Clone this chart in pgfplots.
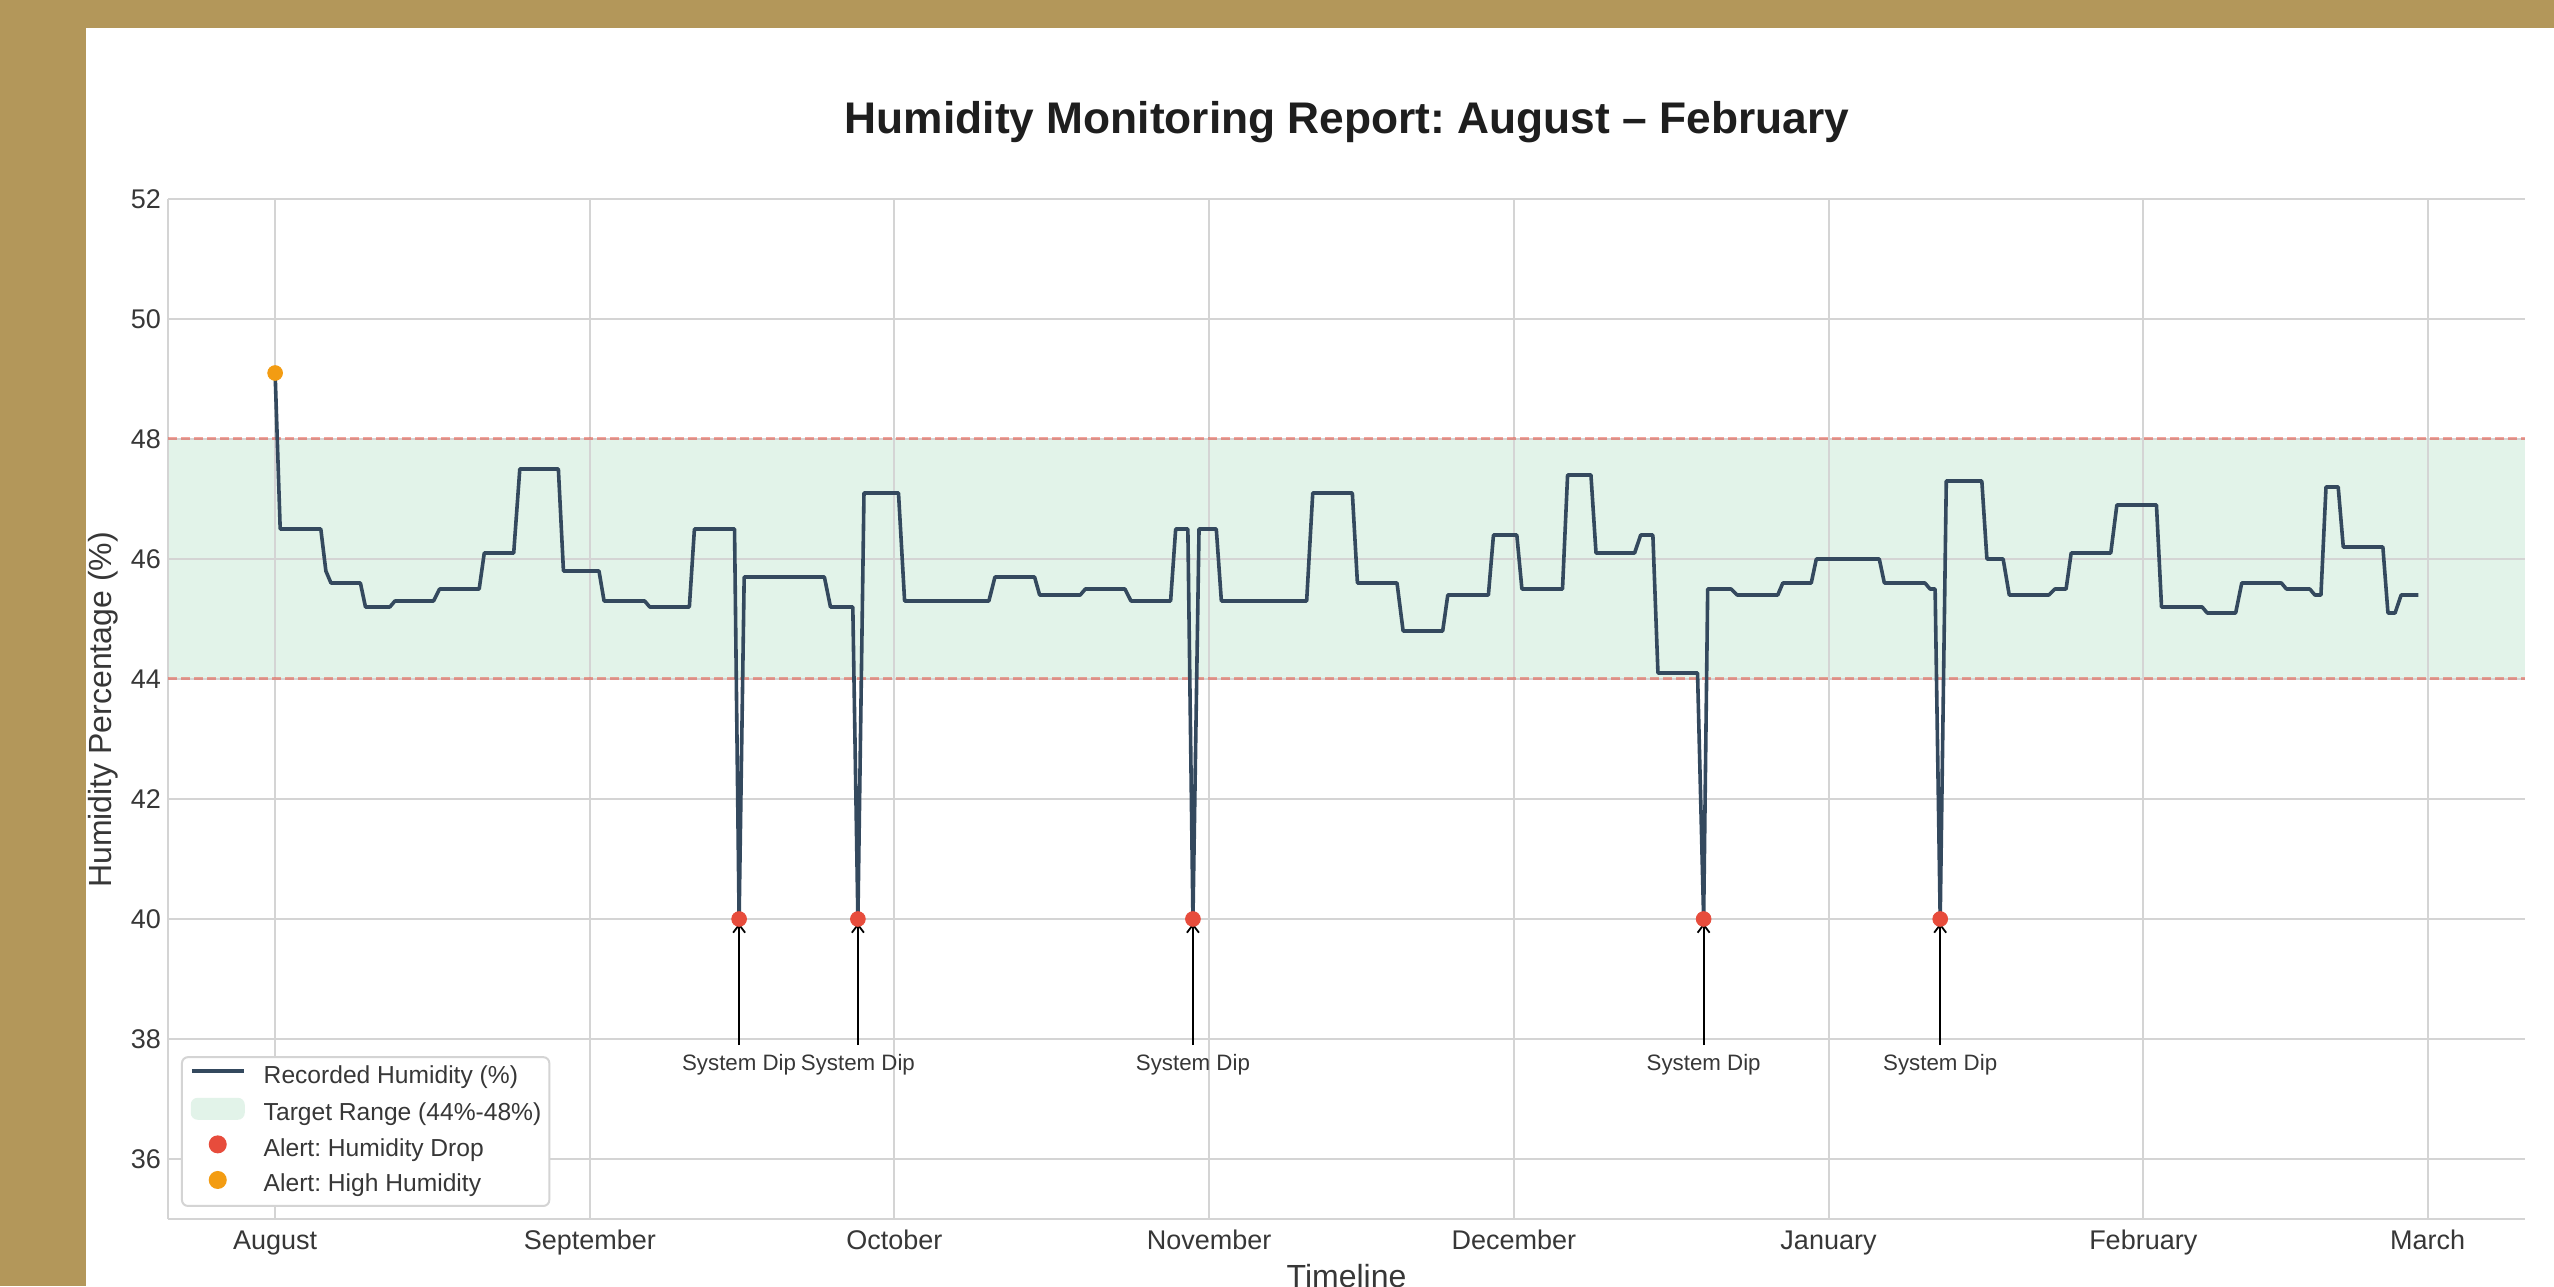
\documentclass[border=0pt]{standalone}
\usepackage{pgfplots}
\usepackage{pgfplotstable}
\pgfplotsset{compat=1.18}
\usepackage{fontspec}
\setmainfont{Liberation Sans}
\usetikzlibrary{arrows.meta}
\frenchspacing
\definecolor{gold}{RGB}{179,151,90}
\definecolor{linec}{RGB}{52,73,94}
\definecolor{bandc}{RGB}{226,243,233}
\definecolor{dashc}{RGB}{231,76,60}
\definecolor{dropc}{RGB}{231,76,60}
\definecolor{highc}{RGB}{243,156,18}
\definecolor{gridc}{RGB}{212,212,212}
\definecolor{tickc}{RGB}{55,55,55}
\definecolor{titlec}{RGB}{30,30,30}

\pgfplotstableread{
day hum
0 49.1
0.5 46.5
4.5 46.5
5.0 45.8
5.5 45.6
8.4 45.6
8.9 45.2
11.3 45.2
11.8 45.3
15.6 45.3
16.2 45.5
20.1 45.5
20.6 46.1
23.5 46.1
24.1 47.5
27.9 47.5
28.4 45.8
31.9 45.8
32.4 45.3
36.4 45.3
36.9 45.2
40.8 45.2
41.3 46.5
45.25 46.5
45.7 40.0
46.2 45.7
54.1 45.7
54.7 45.2
56.9 45.2
57.4 40.0
58.0 47.1
61.4 47.1
62.0 45.3
70.3 45.3
70.9 45.7
74.8 45.7
75.3 45.4
79.3 45.4
79.8 45.5
83.7 45.5
84.3 45.3
88.2 45.3
88.7 46.5
89.9 46.5
90.4 40.0
91.0 46.5
92.7 46.5
93.2 45.3
101.6 45.3
102.2 47.1
106.1 47.1
106.6 45.6
110.5 45.6
111.1 44.8
115.0 44.8
115.5 45.4
119.5 45.4
120.0 46.4
122.3 46.4
122.8 45.5
126.8 45.5
127.3 47.4
129.6 47.4
130.1 46.1
133.9 46.1
134.5 46.4
135.7 46.4
136.2 44.1
140.1 44.1
140.7 40.0
141.1 45.5
143.4 45.5
144.0 45.4
148.0 45.4
148.5 45.6
151.3 45.6
151.8 46.0
158.0 46.0
158.5 45.6
162.5 45.6
163.0 45.5
163.5 45.5
164.0 40.0
164.6 47.3
168.1 47.3
168.6 46.0
170.2 46.0
170.8 45.4
174.7 45.4
175.3 45.5
176.4 45.5
176.9 46.1
180.8 46.1
181.4 46.9
185.3 46.9
185.8 45.2
189.8 45.2
190.3 45.1
193.1 45.1
193.7 45.6
197.6 45.6
198.1 45.5
200.4 45.5
200.9 45.4
201.5 45.4
202.0 47.2
203.2 47.2
203.7 46.2
207.6 46.2
208.1 45.1
208.8 45.1
209.4 45.4
211.1 45.4
}\humdata

\begin{document}
\begin{tikzpicture}
\begin{axis}[
  set layers,
  scale only axis, width=1178.5pt, height=510pt,
  at={(84pt,33.5pt)}, anchor=south west,
  xmin=-10.55, xmax=221.6, ymin=35, ymax=52,
  xtick={0,31,61,92,122,153,184,212},
  xticklabels={August,September,October,November,December,January,February,March},
  ytick={36,38,40,42,44,46,48,50,52},
  grid=major, major grid style={draw=gridc, line width=1pt},
  major tick length=0pt,
  axis x line*=bottom, axis y line*=left,
  axis line style={draw=gridc, line width=1.2pt, -},
  tick label style={font=\fontsize{13.5}{16}\selectfont, text=tickc},
  /pgf/number format/assume math mode=true,
  xticklabel style={anchor=base, yshift=-15pt},
  legend style={
    at={(0.0055,0.0118)}, anchor=south west,
    draw=gridc, line width=1pt, rounded corners=3pt, fill=white,
    font=\fontsize{12.3}{14}\selectfont, text=tickc,
    inner sep=4pt, row sep=4.3pt,
    nodes={inner sep=0pt, text height=9pt, text depth=3pt},
  },
  legend cell align=left,
]
\begin{pgfonlayer}{axis background}
\fill[gold] ([shift={(-84pt,-33.5pt)}]rel axis cs:0,0) rectangle ([shift={(1193pt,609.5pt)}]rel axis cs:0,0);
\fill[white] ([shift={(-41pt,-33.5pt)}]rel axis cs:0,0) rectangle ([shift={(1193pt,595.5pt)}]rel axis cs:0,0);
\end{pgfonlayer}
\addlegendimage{legend image code/.code={\draw[linec, line width=1.8pt] (0pt,3pt) -- (26pt,3pt); \path (35.5pt,0pt);}}
\addlegendentry{Recorded Humidity (\%)}
\addlegendimage{legend image code/.code={\fill[bandc] (0pt,-2pt) rectangle (26pt,8pt); \path (35.5pt,0pt);}}
\addlegendentry{Target Range (44\%-48\%)}
\addlegendimage{legend image code/.code={\fill[dropc] (13pt,3pt) circle (4pt); \path (0pt,0pt) (35.5pt,0pt);}}
\addlegendentry{Alert: Humidity Drop}
\addlegendimage{legend image code/.code={\fill[highc] (13pt,3pt) circle (4pt); \path (0pt,0pt) (35.5pt,0pt);}}
\addlegendentry{Alert: High Humidity}

\addplot[draw=none, fill=bandc, on layer=axis background, forget plot]
  coordinates {(-10.55,44) (221.6,44) (221.6,48) (-10.55,48)} -- cycle;
\addplot[dashc, opacity=0.5, dash pattern=on 4.5pt off 2pt, line width=1.5pt, forget plot]
  coordinates {(-10.55,48) (221.6,48)};
\addplot[dashc, opacity=0.5, dash pattern=on 4.5pt off 2pt, line width=1.5pt, forget plot]
  coordinates {(-10.55,44) (221.6,44)};

\addplot[linec, line width=1.8pt, line join=round, forget plot] table[x=day,y=hum] {\humdata};

\addplot[dropc, only marks, mark=*, mark size=3.7pt, mark options={solid, draw=none, fill=dropc}, forget plot]
  coordinates {(45.7,40) (57.4,40) (90.4,40) (140.7,40) (164.0,40)};
\addplot[highc, only marks, mark=*, mark size=3.7pt, mark options={solid, draw=none, fill=highc}, forget plot]
  coordinates {(0,49.1)};

\foreach \d in {45.7,57.4,90.4,140.7,164.0}{
  \edef\tmp{\noexpand\draw[black, line width=0.9pt, -{Straight Barb[length=4pt,width=6pt]}] (axis cs:\d,37.9) -- (axis cs:\d,39.93);
  \noexpand\node[anchor=base, font=\noexpand\fontsize{11.15}{13}\noexpand\selectfont, text=tickc] at (axis cs:\d,37.48) {System Dip};}
  \tmp
}
\end{axis}
\node[anchor=base, font=\bfseries\fontsize{22.15}{26}\selectfont, text=titlec] at (673.5pt,576pt) {Humidity Monitoring Report: August -- February};
\node[rotate=90, font=\fontsize{16}{19}\selectfont, text=tickc] at (51.5pt,288pt) {Humidity Percentage (\%)};
\node[anchor=base, font=\fontsize{16}{19}\selectfont, text=tickc] at (673.25pt,-0.5pt) {Timeline};
\pgfresetboundingbox
\path[use as bounding box] (0,0) rectangle (1277pt,643pt);
\end{tikzpicture}
\end{document}
